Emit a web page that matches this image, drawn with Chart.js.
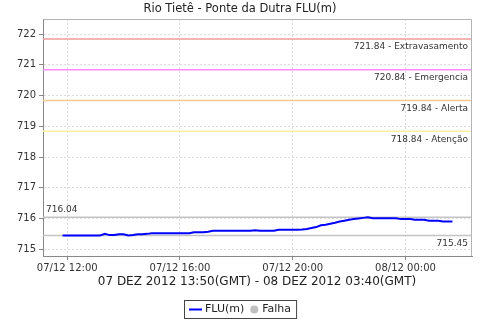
<!DOCTYPE html>
<html><head><meta charset="utf-8">
<script src="https://cdn.jsdelivr.net/npm/chart.js@4.4.0/dist/chart.umd.min.js"></script>
<style>html,body{margin:0;padding:0;background:#fff}#wrap{width:480px;height:320px}</style>
</head><body><div id="wrap"><canvas id="c" width="480" height="320"></canvas></div>
<script>
// ---- data ----
const chartTitle = 'Rio Tietê - Ponte da Dutra FLU(m)';
const xAxisTitle = '07 DEZ 2012 13:50(GMT) - 08 DEZ 2012 03:40(GMT)';
const seriesName = 'FLU(m)';
const failName = 'Falha';
const times = [
 '07/12 11:50','07/12 12:00','07/12 12:10','07/12 12:20','07/12 12:30','07/12 12:40','07/12 12:50',
 '07/12 13:00','07/12 13:10','07/12 13:20','07/12 13:30','07/12 13:40','07/12 13:50',
 '07/12 14:00','07/12 14:10','07/12 14:20','07/12 14:30','07/12 14:40','07/12 14:50',
 '07/12 15:00','07/12 15:10','07/12 15:20','07/12 15:30','07/12 15:40','07/12 15:50',
 '07/12 16:00','07/12 16:10','07/12 16:20','07/12 16:30','07/12 16:40','07/12 16:50',
 '07/12 17:00','07/12 17:10','07/12 17:20','07/12 17:30','07/12 17:40','07/12 17:50',
 '07/12 18:00','07/12 18:10','07/12 18:20','07/12 18:30','07/12 18:40','07/12 18:50',
 '07/12 19:00','07/12 19:10','07/12 19:20','07/12 19:30','07/12 19:40','07/12 19:50',
 '07/12 20:00','07/12 20:10','07/12 20:20','07/12 20:30','07/12 20:40','07/12 20:50',
 '07/12 21:00','07/12 21:10','07/12 21:20','07/12 21:30','07/12 21:40','07/12 21:50',
 '07/12 22:00','07/12 22:10','07/12 22:20','07/12 22:30','07/12 22:40','07/12 22:50',
 '07/12 23:00','07/12 23:10','07/12 23:20','07/12 23:30','07/12 23:40','07/12 23:50',
 '08/12 00:00','08/12 00:10','08/12 00:20','08/12 00:30','08/12 00:40','08/12 00:50',
 '08/12 01:00','08/12 01:10','08/12 01:20','08/12 01:30','08/12 01:40'
];
const levels = [
 715.45,715.45,715.45,715.45,715.45,715.45,715.45,
 715.45,715.45,715.50,715.46,715.46,715.49,
 715.49,715.45,715.46,715.49,715.49,715.50,
 715.52,715.52,715.52,715.52,715.52,715.52,
 715.52,715.52,715.52,715.55,715.55,715.55,
 715.57,715.60,715.60,715.60,715.60,715.60,
 715.60,715.60,715.60,715.60,715.62,715.60,
 715.60,715.60,715.60,715.63,715.63,715.63,
 715.63,715.63,715.64,715.66,715.69,715.72,
 715.78,715.80,715.83,715.86,715.90,715.93,
 715.96,715.98,716.00,716.02,716.04,716.01,
 716.01,716.01,716.01,716.01,716.01,715.98,
 715.98,715.98,715.96,715.96,715.96,715.93,
 715.93,715.93,715.90,715.90,715.90
];
const thresholdValues = [721.84, 720.84, 719.84, 718.84];
const thresholdNames = ['Extravasamento', 'Emergencia', 'Alerta', 'Atenção'];
const xTickHours = [12, 16, 20, 24];
const xTickLabels = ['07/12 12:00', '07/12 16:00', '07/12 20:00', '08/12 00:00'];
const yTickValues = [715, 716, 717, 718, 719, 720, 721, 722];

// ---- styles ----
const thresholdColors = ['#f09a9a', '#ff8cff', '#f6c894', '#fff0a0'];
const FONT = '"DejaVu Sans", sans-serif';
const X_MIN = 11.14, X_MAX = 26.36, Y_MIN = 714.78, Y_MAX = 722.49;

function toHours(s) {
  const [d, t] = s.split(' ');
  const day = parseInt(d.split('/')[0], 10);
  const [h, m] = t.split(':').map(Number);
  return (day - 7) * 24 + h + m / 60;
}
const points = times.map((t, i) => ({ x: toHours(t), y: levels[i] }));
const maxLevel = Math.max(...levels), minLevel = Math.min(...levels);

const hLine = (v, color, w) => ({
  data: [{ x: X_MIN, y: v }, { x: X_MAX, y: v }],
  borderColor: color, borderWidth: w, pointRadius: 0, fill: false, order: 2
});

const datasets = [
  ...thresholdValues.map((v, i) => hLine(v, thresholdColors[i], 1.5)),
  hLine(maxLevel, '#c4c4c4', 1.5),
  hLine(minLevel, '#c4c4c4', 1.5),
  { label: seriesName, data: points, borderColor: '#0000ff', borderWidth: 2,
    pointRadius: 0, fill: false, tension: 0, order: 1 }
];

const decor = {
  id: 'decor',
  afterDatasetsDraw(chart) {
    const { ctx, chartArea: a, scales: { x, y } } = chart;
    ctx.save();
    ctx.strokeStyle = '#b4b4b4'; ctx.lineWidth = 1;
    ctx.beginPath();
    ctx.moveTo(Math.round(a.left) + 0.5, Math.round(a.top) + 0.5);
    ctx.lineTo(Math.round(a.right) - 0.5, Math.round(a.top) + 0.5);
    ctx.lineTo(Math.round(a.right) - 0.5, Math.round(a.bottom));
    ctx.stroke();
    ctx.fillStyle = '#333';
    ctx.font = '9px ' + FONT;
    ctx.textBaseline = 'middle';
    ctx.textAlign = 'right';
    thresholdValues.forEach((v, i) => {
      ctx.fillText(v.toFixed(2) + ' - ' + thresholdNames[i], a.right - 4, y.getPixelForValue(v) + 8);
    });
    ctx.fillText(minLevel.toFixed(2), a.right - 4, y.getPixelForValue(minLevel) + 8.5);
    ctx.textAlign = 'left';
    ctx.fillText(maxLevel.toFixed(2), a.left + 3, y.getPixelForValue(maxLevel) - 7.5);
    ctx.restore();
  },
  afterDraw(chart) {
    const { ctx } = chart;
    ctx.save();
    ctx.fillStyle = '#222';
    ctx.textBaseline = 'middle';
    ctx.textAlign = 'center';
    ctx.font = '11.5px ' + FONT;
    ctx.fillText(chartTitle, 240, 9);
    ctx.font = '12px ' + FONT;
    ctx.fillText(xAxisTitle, 257, 282);
    ctx.font = '11px ' + FONT;
    ctx.textAlign = 'left';
    const w1 = ctx.measureText(seriesName).width, w2 = ctx.measureText(failName).width;
    const total = 5 + 13 + 3 + w1 + 6 + 8 + 4 + w2 + 5;
    const bx = Math.round(240 - total / 2), by = 300, bh = 18;
    ctx.strokeStyle = '#444'; ctx.lineWidth = 1;
    ctx.strokeRect(bx + 0.5, by + 0.5, total, bh);
    const cy = by + bh / 2 + 0.5;
    let cx = bx + 5;
    ctx.strokeStyle = '#0000ff'; ctx.lineWidth = 2;
    ctx.beginPath(); ctx.moveTo(cx, cy); ctx.lineTo(cx + 13, cy); ctx.stroke();
    cx += 16;
    ctx.fillStyle = '#222';
    ctx.fillText(seriesName, cx, cy);
    cx += w1 + 6;
    ctx.fillStyle = '#c0c0c0';
    ctx.beginPath(); ctx.arc(cx + 4, cy, 4, 0, Math.PI * 2); ctx.fill();
    cx += 12;
    ctx.fillStyle = '#222';
    ctx.fillText(failName, cx, cy);
    ctx.restore();
  }
};

new Chart(document.getElementById('c'), {
  type: 'line',
  data: { datasets },
  plugins: [decor],
  options: {
    responsive: false, animation: false, devicePixelRatio: 1,
    layout: { padding: { top: 19, right: 8, left: 0, bottom: 0 } },
    plugins: { legend: { display: false }, title: { display: false }, tooltip: { enabled: false } },
    scales: {
      x: {
        type: 'linear', min: X_MIN, max: X_MAX,
        afterBuildTicks: s => { s.ticks = xTickHours.map(v => ({ value: v })); },
        afterFit: s => { s.height = 64; },
        ticks: {
          autoSkip: false, maxRotation: 0, padding: 2, color: '#333',
          font: { family: FONT, size: 10 },
          callback: v => xTickLabels[xTickHours.indexOf(v)]
        },
        grid: { color: '#dcdcdc', tickColor: '#888', tickLength: 4 },
        border: { color: '#888', dash: [2, 2] }
      },
      y: {
        min: Y_MIN, max: Y_MAX,
        afterBuildTicks: s => { s.ticks = yTickValues.map(v => ({ value: v })); },
        afterFit: s => { s.width = 43; },
        ticks: { padding: 3, color: '#333', font: { family: FONT, size: 10 }, callback: v => String(v) },
        grid: { color: '#dcdcdc', tickColor: '#888', tickLength: 4 },
        border: { color: '#888', dash: [2, 2] }
      }
    }
  }
});
</script>
</body></html>
